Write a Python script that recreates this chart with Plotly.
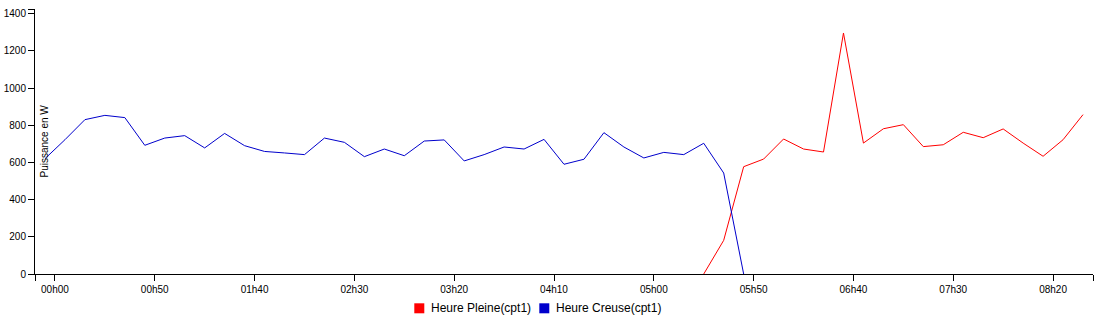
import plotly.graph_objects as go

# ---- data ----
tick_labels = ["00h00", "00h50", "01h40", "02h30", "03h20", "04h10", "05h00", "05h50", "06h40", "07h30", "08h20"]
series_names = ["Heure Pleine(cpt1)", "Heure Creuse(cpt1)"]
series_colors = ["#ff0000", "#0000cc"]

heure_creuse = [620, 722, 830, 853, 841, 692, 731, 744, 678, 756,
                690, 659, 651, 642, 731, 708, 631, 672, 636, 715,
                721, 608, 642, 683, 672, 724, 590, 617, 760, 683,
                624, 654, 642, 703, 543, 0]
heure_pleine = [0, 181, 577, 618, 726, 672, 656, 1296, 704, 781,
                803, 685, 695, 762, 733, 780, 704, 633, 722, 857]

n_points = 53
idx = list(range(n_points))
creuse_y = heure_creuse + [None] * (n_points - len(heure_creuse))
pleine_y = [None] * (n_points - len(heure_pleine)) + heure_pleine

# ---- geometry ----
W, H = 1103, 327
ML, MR, MT, MB = 35, 10, 9, 53
PW, PH = W - ML - MR, H - MT - MB

def px(xp):
    return (xp - ML) / PW

def py(yp):
    return (H - MB - yp) / PH

fig = go.Figure()
fig.add_trace(go.Scatter(x=idx, y=pleine_y, mode="lines", name=series_names[0],
                         line=dict(color=series_colors[0], width=1), showlegend=False,
                         connectgaps=False))
fig.add_trace(go.Scatter(x=idx, y=creuse_y, mode="lines", name=series_names[1],
                         line=dict(color=series_colors[1], width=1), showlegend=False,
                         connectgaps=False))

xtickvals = [-0.5] + [0.5 + 5 * k for k in range(len(tick_labels))] + [n_points - 0.5]
xticktext = [""] + tick_labels + [""]
ytickvals = list(range(0, 1401, 200)) + [1425]
yticktext = [str(v) for v in range(0, 1401, 200)] + [""]

font = dict(family="Liberation Sans, Arial, sans-serif", size=10, color="black")

fig.update_layout(
    width=W, height=H,
    margin=dict(l=ML, r=MR, t=MT, b=MB, pad=0, autoexpand=False),
    paper_bgcolor="white", plot_bgcolor="white",
    font=font,
    showlegend=False,
    xaxis=dict(range=[-0.5, n_points - 0.5], tickmode="array", tickvals=xtickvals, ticktext=xticktext,
               showgrid=False, zeroline=False, showline=True, linecolor="black", linewidth=1,
               ticks="outside", ticklen=6, tickcolor="black", tickwidth=1, tickfont=font,
               automargin=False),
    yaxis=dict(range=[0, 1425], tickmode="array", tickvals=ytickvals, ticktext=yticktext,
               showgrid=False, zeroline=False, showline=True, linecolor="black", linewidth=1,
               ticks="outside", ticklen=6, tickcolor="black", tickwidth=1, tickfont=font,
               automargin=False),
)

# y axis title inside plot
fig.add_annotation(text="Puissance en W", xref="paper", yref="paper", x=px(44), y=py(141.5),
                   xanchor="center", yanchor="middle", textangle=-90, showarrow=False,
                   font=dict(family="Liberation Sans, Arial, sans-serif", size=10, color="black"))

# legend (manual, square swatches)
legend_sq_x = [414.3, 539.3]
for name, color, sx in zip(series_names, series_colors, legend_sq_x):
    fig.add_shape(type="rect", xref="paper", yref="paper",
                  x0=px(sx), x1=px(sx + 10), y0=py(313.3), y1=py(303.3),
                  fillcolor=color, line=dict(width=0))
    fig.add_annotation(text=name, xref="paper", yref="paper", x=px(sx + 15), y=py(308.3),
                       xanchor="left", yanchor="middle", showarrow=False,
                       font=dict(family="Liberation Sans, Arial, sans-serif", size=12, color="black"))

fig.write_html("out.html")
